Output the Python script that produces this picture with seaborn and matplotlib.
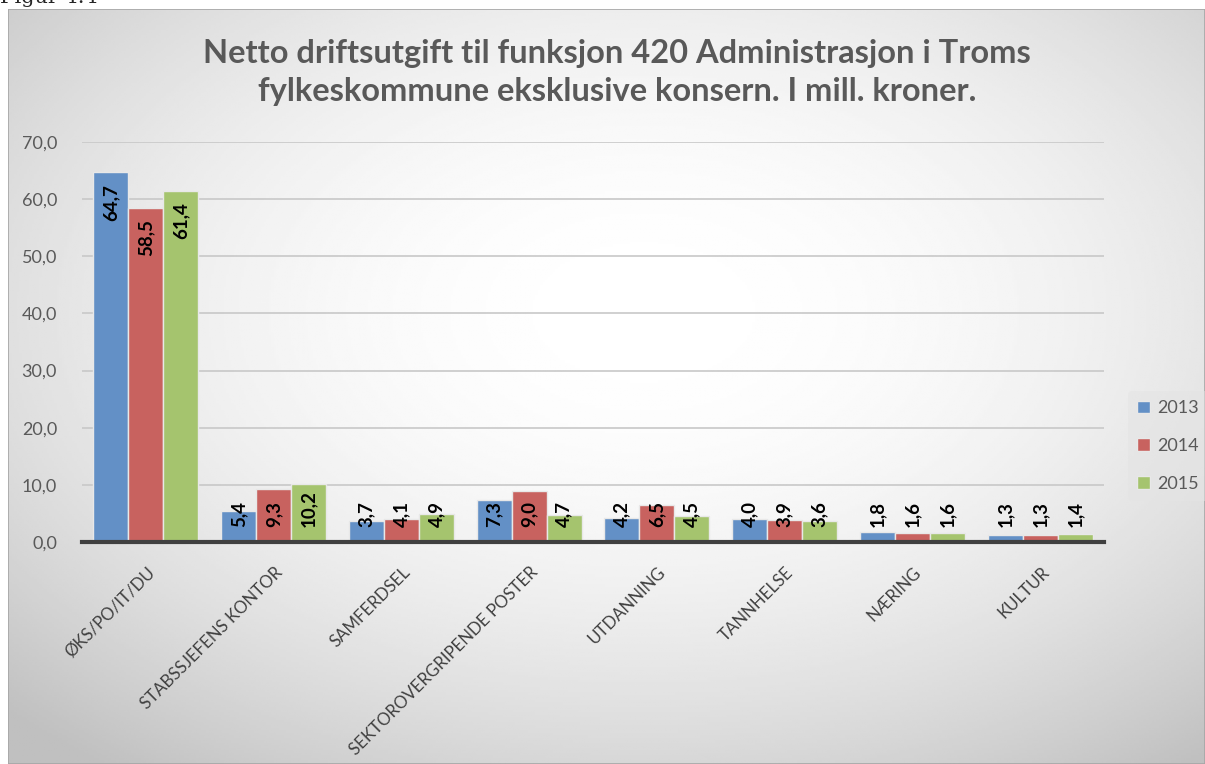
import numpy as np
import pandas as pd
import seaborn as sns
import matplotlib.pyplot as plt
from matplotlib.patches import Rectangle

categories = ["ØKS/PO/IT/DU", "STABSSJEFENS KONTOR", "SAMFERDSEL",
              "SEKTOROVERGRIPENDE POSTER", "UTDANNING", "TANNHELSE",
              "NÆRING", "KULTUR"]
years = ["2013", "2014", "2015"]
v2013 = [64.7, 5.4, 3.7, 7.3, 4.2, 4.0, 1.8, 1.3]
v2014 = [58.5, 9.3, 4.1, 9.0, 6.5, 3.9, 1.6, 1.3]
v2015 = [61.4, 10.2, 4.9, 4.7, 4.5, 3.6, 1.6, 1.4]
yticks = [0, 10, 20, 30, 40, 50, 60, 70]
colors = ["#6390C6", "#C8625F", "#A5C46E"]

df = pd.DataFrame({
    "kategori": categories * 3,
    "år": [y for y in years for _ in categories],
    "verdi": v2013 + v2014 + v2015,
})

sns.set_style("white")
plt.rcParams["font.family"] = ["Lato", "DejaVu Sans"]
grey = "#595959"

fig = plt.figure(figsize=(12.05, 7.64), dpi=100)
fig.patch.set_facecolor("white")

# gradient background of chart box
bg = fig.add_axes([8 / 1205, 0, 1 - 8 / 1205, (764 - 9) / 764], zorder=0)
yy, xx = np.mgrid[0:300, 0:480]
cx, cy = 0.53 * 480, 0.40 * 300
r2 = ((xx - cx) / 480 * 2) ** 2 + ((yy - cy) / 300 * 2) ** 2
shade = 1 - 0.11 * r2
bg.imshow(np.clip(shade, 0.75, 1), cmap="gray", vmin=0, vmax=1,
          aspect="auto", extent=[0, 1, 0, 1], origin="upper")
bg.add_patch(Rectangle((0, 0), 1, 1, transform=bg.transAxes, fill=False,
                       edgecolor="#a6a6a6", lw=1.2))
bg.set_axis_off()

fig.text(0.0, (764 - 3) / 764, "Figur 4.4", family="DejaVu Serif",
         fontsize=15, va="baseline", ha="left")

ax = fig.add_axes([82 / 1205, (764 - 542) / 764, (1104 - 82) / 1205,
                   (542 - 142) / 764], zorder=1)
ax.patch.set_alpha(0)

sns.barplot(data=df, x="kategori", y="verdi", hue="år", palette=colors,
            width=0.82, edgecolor="#e8e8e8", linewidth=1, ax=ax,
            saturation=1, legend=True)

ax.set_ylim(0, 70)
ax.set_xlim(-0.5, len(categories) - 0.5)
ax.set_yticks(yticks)
ax.set_yticklabels([f"{t:.1f}".replace(".", ",") for t in yticks],
                   fontsize=13, color=grey)
ax.yaxis.grid(True, color="#c8c8c8", lw=1.2)
ax.set_axisbelow(True)
ax.tick_params(axis="y", length=0, pad=18)
for s in ["top", "right", "left"]:
    ax.spines[s].set_visible(False)
ax.spines["bottom"].set_color("#404040")
ax.spines["bottom"].set_linewidth(3)

ax.set_xticks(np.arange(len(categories)) + 0.05)
ax.set_xticklabels(categories, rotation=45, ha="right", va="center",
                   rotation_mode="anchor", fontsize=12.2, color="#404040")
ax.tick_params(axis="x", which="major", length=0, pad=20)
ax.set_xticks(np.arange(-0.5, len(categories)), minor=True)
ax.tick_params(axis="x", which="minor", length=7, width=2.5,
               color="#404040", direction="out")
ax.set_xlabel("")
ax.set_ylabel("")

# data labels
for cont in ax.containers:
    for bar in cont:
        v = bar.get_height()
        x = bar.get_x() + bar.get_width() / 2
        txt = f"{v:.1f}".replace(".", ",")
        if v >= 20:
            ax.text(x, v - 2.0, txt, rotation=90, ha="center", va="top",
                    fontsize=13.5, fontweight="bold", color="black")
        else:
            ax.text(x, 2.6, txt, rotation=90, ha="center", va="bottom",
                    fontsize=13.5, fontweight="bold", color="black")

leg = ax.legend(loc="center left", bbox_to_anchor=(1.015, 0.24),
                frameon=True, fontsize=13, handlelength=0.7,
                handleheight=0.7, labelspacing=1.2, borderpad=0.5,
                handletextpad=0.4)
leg.get_frame().set_facecolor("#e4e4e4")
leg.get_frame().set_alpha(0.5)
leg.get_frame().set_edgecolor("none")
for t in leg.get_texts():
    t.set_color(grey)

fig.text(0.512, 0.905,
         "Netto driftsutgift til funksjon 420 Administrasjon i Troms\n"
         "fylkeskommune eksklusive konsern. I mill. kroner.",
         ha="center", va="center", fontsize=23.5, fontweight="bold",
         color=grey, linespacing=1.4)

fig.savefig("out.png", dpi=100)
